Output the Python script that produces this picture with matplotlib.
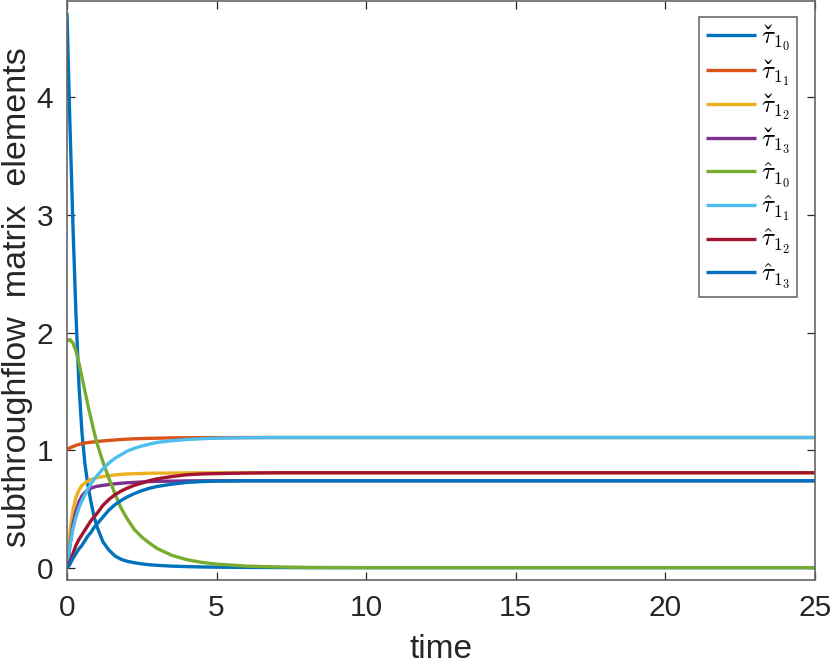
import matplotlib
matplotlib.use("Agg")
import matplotlib.pyplot as plt

try:
    import matplotlib._mathtext as _mt
    _mt.Parser._accent_map['check'] = r'\check'
except Exception:
    pass

plt.rcParams['font.family'] = ['Liberation Sans', 'DejaVu Sans']
plt.rcParams['mathtext.fontset'] = 'cm'

time = [0, 0.05, 0.1, 0.2, 0.3, 0.4, 0.5, 0.6, 0.7, 0.8, 0.9, 1.0, 1.2, 1.4, 1.6, 1.8, 2.0,
        2.25, 2.5, 2.75, 3.0, 3.5, 4.0, 4.5, 5.0, 6.0, 7.0, 8.0, 10.0, 15.0, 20.0, 25.0]

tau_check_10 = [4.72, 4.22, 3.75, 2.90, 2.15, 1.55, 1.15, 0.88, 0.70, 0.56, 0.44, 0.35,
                0.22, 0.15, 0.10, 0.072, 0.055, 0.042, 0.032, 0.025, 0.020, 0.013, 0.009,
                0.006, 0.004, 0.002, 0.001, 0, 0, 0, 0, 0]
tau_check_11 = [1.0, 1.01, 1.02, 1.03, 1.04, 1.048, 1.055, 1.06, 1.064, 1.067, 1.070, 1.073,
                1.078, 1.082, 1.086, 1.090, 1.093, 1.096, 1.098, 1.100, 1.101, 1.104, 1.105,
                1.106, 1.106, 1.107, 1.107, 1.107, 1.107, 1.107, 1.107, 1.107]
tau_check_12 = [0, 0.17, 0.30, 0.49, 0.60, 0.66, 0.70, 0.72, 0.735, 0.75, 0.758, 0.765,
                0.775, 0.783, 0.789, 0.793, 0.797, 0.799, 0.801, 0.803, 0.804, 0.805, 0.806,
                0.807, 0.807, 0.807, 0.807, 0.807, 0.807, 0.807, 0.807, 0.807]
tau_check_13 = [0, 0.09, 0.19, 0.37, 0.48, 0.56, 0.61, 0.64, 0.66, 0.675, 0.685, 0.692,
                0.70, 0.707, 0.713, 0.718, 0.722, 0.725, 0.729, 0.732, 0.734, 0.736, 0.738,
                0.739, 0.739, 0.739, 0.739, 0.739, 0.739, 0.739, 0.739, 0.739]
tau_hat_10 = [1.925, 1.935, 1.94, 1.91, 1.84, 1.74, 1.62, 1.50, 1.38, 1.27, 1.16, 1.06,
              0.90, 0.76, 0.63, 0.51, 0.42, 0.325, 0.26, 0.21, 0.165, 0.105, 0.068,
              0.045, 0.03, 0.013, 0.006, 0.002, 0, 0, 0, 0]
tau_hat_11 = [0, 0.10, 0.19, 0.33, 0.43, 0.51, 0.57, 0.62, 0.67, 0.71, 0.75, 0.78,
              0.84, 0.89, 0.93, 0.96, 0.99, 1.015, 1.035, 1.05, 1.065, 1.08, 1.09,
              1.097, 1.101, 1.105, 1.107, 1.107, 1.107, 1.107, 1.107, 1.107]
tau_hat_12 = [0, 0.02, 0.05, 0.12, 0.19, 0.24, 0.28, 0.32, 0.36, 0.40, 0.43, 0.46,
              0.53, 0.58, 0.62, 0.65, 0.675, 0.70, 0.72, 0.74, 0.755, 0.775, 0.79,
              0.797, 0.80, 0.805, 0.807, 0.807, 0.807, 0.807, 0.807, 0.807]
tau_hat_13 = [0, 0.01, 0.03, 0.08, 0.12, 0.16, 0.19, 0.23, 0.27, 0.30, 0.34, 0.37,
              0.43, 0.49, 0.535, 0.57, 0.60, 0.63, 0.655, 0.675, 0.69, 0.71, 0.725,
              0.732, 0.736, 0.739, 0.739, 0.739, 0.739, 0.739, 0.739, 0.739]

series = [tau_check_10, tau_check_11, tau_check_12, tau_check_13,
          tau_hat_10, tau_hat_11, tau_hat_12, tau_hat_13]
labels = [r'$\check{\tau}_{1_0}$', r'$\check{\tau}_{1_1}$', r'$\check{\tau}_{1_2}$',
          r'$\check{\tau}_{1_3}$', r'$\hat{\tau}_{1_0}$', r'$\hat{\tau}_{1_1}$',
          r'$\hat{\tau}_{1_2}$', r'$\hat{\tau}_{1_3}$']
colors = ['#0072BD', '#D95319', '#EDB120', '#7E2F8E', '#77AC30', '#4DBEEE',
          '#A2142F', '#0072BD']

xticks = [0, 5, 10, 15, 20, 25]
yticks = [0, 1, 2, 3, 4]

fig = plt.figure(figsize=(8.3, 6.65), dpi=100)
ax = fig.add_axes([67/830, 1 - 580/665, (815 - 67)/830, (580 - 1)/665])

for s, lab, c in zip(series, labels, colors):
    ax.plot(time, s, color=c, lw=2.4, label=lab, solid_capstyle='butt')

ax.set_xlim(0, 25)
ax.set_ylim(-0.105, 4.82)
ax.set_xticks(xticks)
ax.set_yticks(yticks)
ax.tick_params(direction='in', length=5.5, width=0.9, color='#262626',
               labelsize=21.5, labelcolor='#262626', pad=10,
               top=True, right=True)
for sp in ax.spines.values():
    sp.set_color('#666666')
    sp.set_linewidth(1.2)

ax.set_xlabel('time', fontsize=24, color='#262626', labelpad=9)
ax.set_ylabel('subthroughflow  matrix  elements', fontsize=24.5, color='#262626')
ax.yaxis.set_label_coords(-0.045, 1 - (297 - 1) / 579)

leg = ax.legend(loc='upper right', bbox_to_anchor=(797/830, 1 - 17/665),
                bbox_transform=fig.transFigure, fontsize=18, frameon=True,
                fancybox=False, edgecolor='#777777', framealpha=1,
                handlelength=2.0, handletextpad=0.2, borderpad=0.28,
                labelspacing=0.18, borderaxespad=0)
leg.get_frame().set_linewidth(1.3)

fig.savefig('out.png', dpi=100)
